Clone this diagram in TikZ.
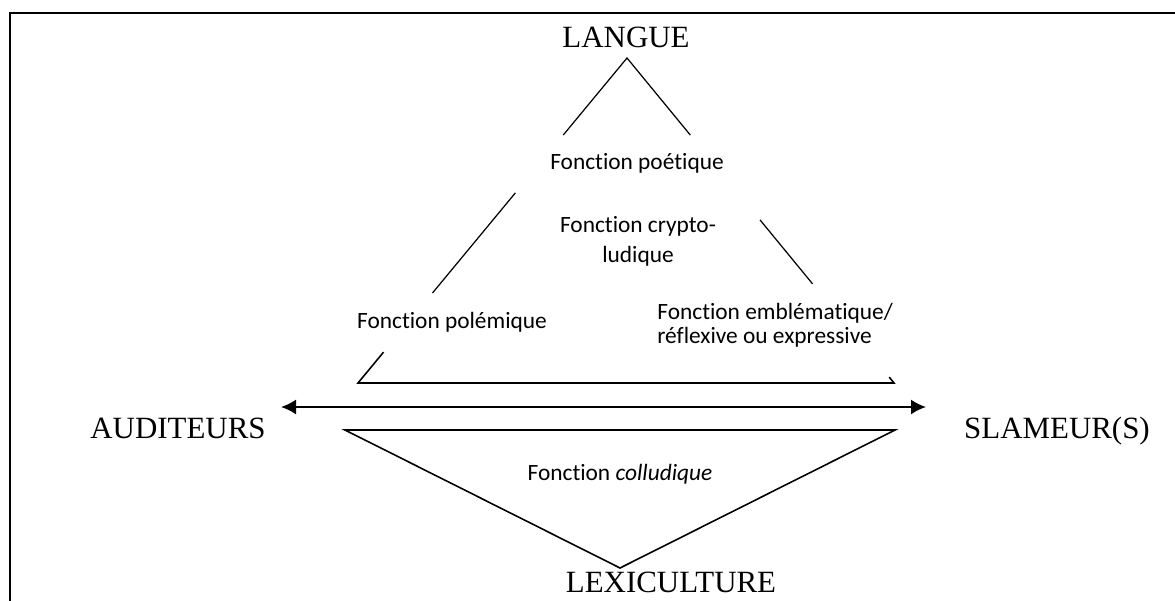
\documentclass[tikz,border=0pt]{standalone}
\usepackage{fontspec}
\setmainfont{Liberation Serif}
\newfontfamily\calibri[Ligatures=NoCommon]{Carlito}
\usetikzlibrary{calc}
\usetikzlibrary{arrows.meta}

\tikzset{
  pole/.style={font=\fontsize{17.6}{21}\selectfont, inner sep=0pt, anchor=base},
  fonction/.style={font=\calibri\fontsize{13.3}{16}\selectfont, inner sep=0pt, anchor=base},
  trait/.style={line width=0.7pt},
  socle/.style={line width=0.9pt},
}

\begin{document}
\begin{tikzpicture}[x=0.02cm, y=-0.02cm]
\useasboundingbox (0,0) rectangle (1175,601);
\draw[line width=1.1pt] (10,601) -- (10,13) -- (1175,13); % frame, cut by the page

% the four poles
\node[pole] (langue) at (626,48) {LANGUE};
\node[pole] (auditeurs) at (178,438) {AUDITEURS};
\node[pole] (slameurs) at (1057,438) {SLAMEUR(S)};
\node[pole] (lexiculture) at (671,592) {LEXICULTURE};

% functions (base of a two-line node = its last line)
\node[fonction] (poetique) at (637,170) {Fonction po\'etique};
\node[fonction, align=center, font=\calibri\fontsize{13.3}{17}\selectfont] (crypto) at (638,262) {Fonction crypto-\\ludique};
\node[fonction] (polemique) at (452,328) {Fonction pol\'emique};
\node[fonction, anchor=base west, align=left, font=\calibri\fontsize{13.3}{13.3}\selectfont] (emblem) at (657,343) {Fonction embl\'ematique/\\r\'eflexive ou expressive};
\node[fonction] (colludique) at (620,480) {Fonction \textit{colludique}};

% upper triangle, broken round the labels
\coordinate (sommet) at (627,58);
\coordinate (gauche) at (358,383);
\coordinate (droite) at (894,383);
\draw[trait] ($(sommet)!0.237!(gauche)$) -- (sommet) -- ($(sommet)!0.237!(droite)$);
\draw[trait] ($(sommet)!0.415!(gauche)$) -- ($(sommet)!0.723!(gauche)$);
\draw[trait] ($(sommet)!0.498!(droite)$) -- ($(sommet)!0.695!(droite)$);
\draw[socle] ($(sommet)!0.905!(gauche)$) -- (gauche) -- (droite) -- ($(sommet)!0.982!(droite)$);

% exchange
\coordinate (fleche g) at (281,407);
\coordinate (fleche d) at (926,407);
\draw[line width=1.1pt, {Latex[length=3mm,width=3mm]}-{Latex[length=3mm,width=3mm]}] (fleche g) -- (fleche d);

% lower triangle
\coordinate (bas g) at (345,430);
\coordinate (bas d) at (895,430);
\coordinate (pointe) at (620,568);
\draw[socle] (bas g) -- (bas d) -- (pointe) -- cycle;
\end{tikzpicture}
\end{document}
